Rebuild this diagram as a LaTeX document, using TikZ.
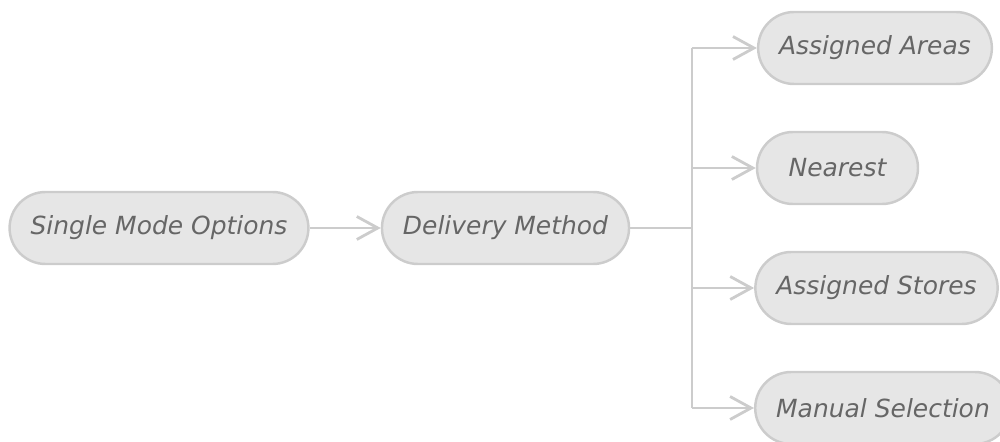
\documentclass[tikz,border=0pt]{standalone}
\usepackage{fontspec}
\setmainfont{DejaVu Sans}
\usetikzlibrary{arrows.meta}

\definecolor{boxfill}{HTML}{E6E6E6}
\definecolor{boxline}{HTML}{CCCCCC}
\definecolor{boxtext}{HTML}{666666}

\tikzset{
    option/.style={draw=boxline, line width=1.4pt, fill=boxfill, text=boxtext,
        rounded corners=0.72cm, minimum height=1.44cm, inner xsep=0.42cm,
        font=\fontsize{14.2}{17}\selectfont\itshape},
    link/.style={draw=boxline, line width=1.6pt},
    linkarrow/.style={link, -{Straight Barb[length=0.42cm, width=0.46cm, line width=1.6pt]}}
}

\begin{document}
\begin{tikzpicture}
        \useasboundingbox (0, 0) rectangle (20, -8.84);

        \node[option] (single) at (3.18, -4.56) {Single Mode Options};
        \node[option] (method) at (10.11, -4.56) {Delivery Method};

        \node[option] (areas) at (17.5, -0.96) {Assigned Areas};
        \node[option, minimum width=3.22cm] (nearest) at (16.75, -3.36) {Nearest};
        \node[option] (stores) at (17.53, -5.76) {Assigned Stores};
        \node[option] (manual) at (17.66, -8.16) {Manual Selection};

        \draw[linkarrow] (single) -- (method);

        % fork to the four methods
        \coordinate (fork) at (13.84, -4.56);
        \draw[link] (method.east) -- (fork);
        \draw[link] (fork |- areas) -- (fork |- manual);

        \draw[linkarrow] (fork |- areas) -- (areas.west);
        \draw[linkarrow] (fork |- nearest) -- (nearest.west);
        \draw[linkarrow] (fork |- stores) -- (stores.west);
        \draw[linkarrow] (fork |- manual) -- (manual.west);

    \end{tikzpicture}
\end{document}
